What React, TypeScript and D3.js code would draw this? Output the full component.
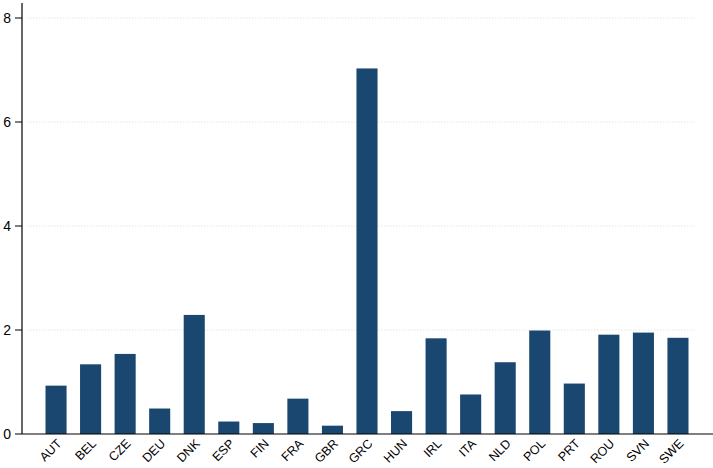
import React, { useEffect, useRef } from 'react';
import * as d3 from 'd3';

const countries = ['AUT', 'BEL', 'CZE', 'DEU', 'DNK', 'ESP', 'FIN', 'FRA', 'GBR', 'GRC', 'HUN', 'IRL', 'ITA', 'NLD', 'POL', 'PRT', 'ROU', 'SVN', 'SWE'];
const values = [0.93, 1.34, 1.54, 0.49, 2.29, 0.24, 0.21, 0.68, 0.16, 7.03, 0.44, 1.84, 0.76, 1.38, 1.99, 0.97, 1.91, 1.95, 1.85];
const yTicks = [0, 2, 4, 6, 8];

const width = 713;
const height = 468;

const App: React.FC = () => {
  const svgRef = useRef<SVGSVGElement>(null);

  useEffect(() => {
    document.body.style.margin = '0';
    const svg = d3.select(svgRef.current);
    svg.selectAll('*').remove();

    const left = 22;
    const bottom = 434;

    const x = d3.scaleBand()
      .domain(countries)
      .range([left, 712])
      .paddingInner(0.39)
      .paddingOuter(0.68);

    const y = d3.scaleLinear()
      .domain([0, 8])
      .range([bottom, 18]);

    const font = '"Liberation Sans", Arial, sans-serif';

    // gridlines
    svg.append('g')
      .selectAll('line')
      .data(yTicks.filter(t => t > 0))
      .enter()
      .append('line')
      .attr('x1', left + 5)
      .attr('x2', 695)
      .attr('y1', d => y(d))
      .attr('y2', d => y(d))
      .style('stroke', '#e2e6ea')
      .style('stroke-width', 1)
      .style('stroke-dasharray', '1.5,1.5');

    // bars
    svg.append('g')
      .selectAll('rect')
      .data(countries)
      .enter()
      .append('rect')
      .attr('x', d => x(d)!)
      .attr('y', (d, i) => y(values[i]))
      .attr('width', x.bandwidth())
      .attr('height', (d, i) => bottom - y(values[i]))
      .style('fill', '#1a476f');

    // y axis
    svg.append('line')
      .attr('x1', left).attr('x2', left)
      .attr('y1', 3).attr('y2', bottom)
      .style('stroke', '#000').style('stroke-width', 1.2);

    const yAxis = svg.append('g');
    yTicks.forEach(t => {
      yAxis.append('line')
        .attr('x1', left - 7).attr('x2', left)
        .attr('y1', y(t)).attr('y2', y(t))
        .style('stroke', '#000').style('stroke-width', 1);
      yAxis.append('text')
        .attr('x', left - 11)
        .attr('y', y(t))
        .attr('dy', '0.36em')
        .attr('text-anchor', 'end')
        .style('font-family', font)
        .style('font-size', '14px')
        .text(t);
    });

    // x axis
    svg.append('line')
      .attr('x1', left).attr('x2', 713)
      .attr('y1', bottom).attr('y2', bottom)
      .style('stroke', '#000').style('stroke-width', 1.2);

    svg.append('g')
      .selectAll('text')
      .data(countries)
      .enter()
      .append('text')
      .attr('transform', d => `translate(${x(d)! + x.bandwidth() / 2},${bottom + 4}) rotate(-45)`)
      .attr('text-anchor', 'end')
      .attr('dy', '0.72em')
      .style('font-family', font)
      .style('font-size', '12.5px')
      .text(d => d);
  }, []);

  return <svg ref={svgRef} width={width} height={height} style={{ display: 'block', background: '#fff' }} />;
};

export default App;
